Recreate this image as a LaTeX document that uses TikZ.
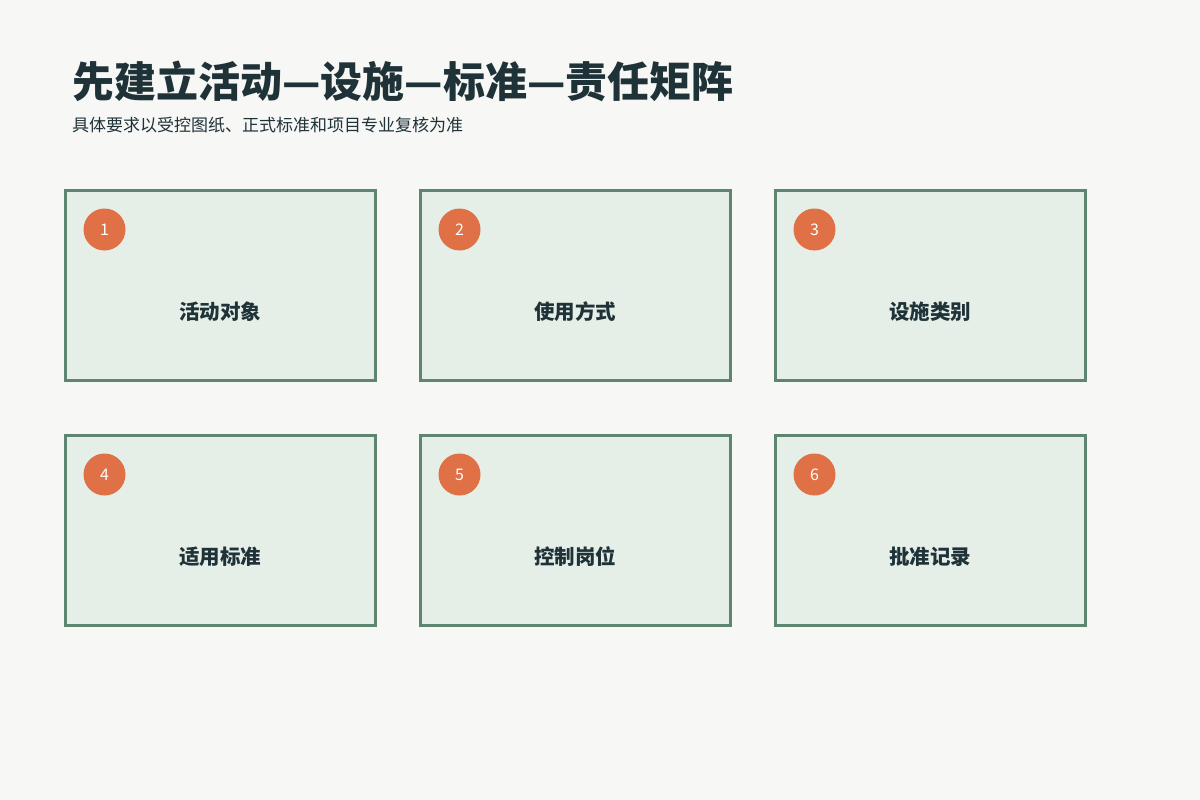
\documentclass[tikz,border=0pt]{standalone}
\usepackage{fontspec}
\setmainfont{Noto Sans CJK SC}
\usetikzlibrary{positioning}
\definecolor{bgpage}{HTML}{F7F7F5}
\definecolor{boxfill}{HTML}{E5EFE8}
\definecolor{boxline}{HTML}{5E8570}
\definecolor{badge}{HTML}{E07045}
\definecolor{ink}{HTML}{1F3238}
\tikzset{
  cell/.style={rectangle, minimum width=310pt, minimum height=190pt, draw=boxline, line width=3pt, fill=boxfill},
  badgedot/.style={circle, minimum size=42pt, inner sep=0pt, fill=badge, text=white, font=\fontsize{16pt}{16pt}\selectfont},
  celltext/.style={text=ink, font=\fontsize{20.5pt}{20.5pt}\selectfont\bfseries}
}
\begin{document}
\begin{tikzpicture}[x=1pt, y=-1pt]
\useasboundingbox[fill=bgpage] (0,0) rectangle (1200,800);

\node (title) [anchor=base west, text=ink, inner sep=0pt, font=\fontsize{42pt}{42pt}\selectfont\bfseries] at (72,97) {先建立活动—设施—标准—责任矩阵};
\node (subtitle) [anchor=base west, text=ink, inner sep=0pt, font=\fontsize{17pt}{17pt}\selectfont] at (72,131) {具体要求以受控图纸、正式标准和项目专业复核为准};

% cells of the matrix
\node (c1) [cell] at (220,285) {};
\node (c2) [cell] at (575,285) {};
\node (c3) [cell] at (930,285) {};
\node (c4) [cell] at (220,530) {};
\node (c5) [cell] at (575,530) {};
\node (c6) [cell] at (930,530) {};

\foreach \i/\txt in {1/活动对象, 2/使用方式, 3/设施类别, 4/适用标准, 5/控制岗位, 6/批准记录} {
  \node (n\i) [badgedot] at ([xshift=41pt, yshift=-41pt]c\i.north west) {\i};
  \node (t\i) [celltext] at ([yshift=-27pt]c\i.center) {\txt};
}

\end{tikzpicture}
\end{document}
